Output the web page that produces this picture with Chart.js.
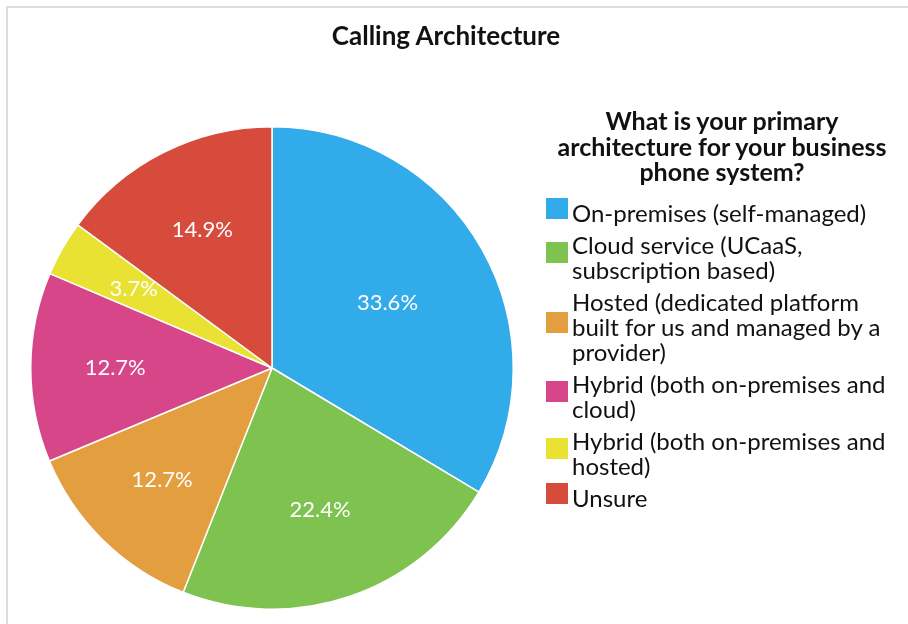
<!DOCTYPE html>
<html>
<head>
<meta charset="utf-8">
<script src="https://cdn.jsdelivr.net/npm/chart.js@4/dist/chart.umd.min.js"></script>
<style>
    html, body { margin: 0; padding: 0; background: #fff; }
    #wrap { position: relative; width: 908px; height: 624px; overflow: hidden; font-family: Lato, "Noto Sans", sans-serif; color: #111; }
    #frame { position: absolute; left: 6px; top: 6px; right: -10px; bottom: -10px; border-top: 2px solid #dcdcdc; border-left: 2px solid #dcdcdc; }
    #title { position: absolute; left: 0; width: 892px; top: 19px; line-height: 32px; text-align: center; font-weight: bold; font-size: 26px; }
    #chart { position: absolute; left: 0; top: 0; }
    #legend { position: absolute; left: 546px; top: 108px; width: 352px; }
    #legend .head { font-weight: bold; font-size: 25px; line-height: 25.5px; text-align: center; margin-bottom: 15px; }
    #legend .item { display: flex; align-items: center; margin-bottom: 7px; }
    #legend .box { width: 22px; height: 21px; flex: none; margin-right: 4px; transform: translateY(-4px); }
    #legend .txt { font-size: 24px; line-height: 25px; }
</style>
</head>
<body>
<div id="wrap">
    <div id="frame"></div>
    <canvas id="chart" width="908" height="624"></canvas>
    <div id="title"></div>
    <div id="legend"></div>
</div>
<script>
    const chartTitle = 'Calling Architecture';
    const legendTitle = ['What is your primary', 'architecture for your business', 'phone system?'];
    const categories = [
        ['On-premises (self-managed)'],
        ['Cloud service (UCaaS,', 'subscription based)'],
        ['Hosted (dedicated platform', 'built for us and managed by a', 'provider)'],
        ['Hybrid (both on-premises and', 'cloud)'],
        ['Hybrid (both on-premises and', 'hosted)'],
        ['Unsure']
    ];
    const values = [33.6, 22.4, 12.7, 12.7, 3.7, 14.9];
    const colors = ['#32ABEA', '#7EC34F', '#E39E40', '#D64689', '#EAE233', '#D64B3C'];

    // how far out (fraction of radius) each percentage label sits
    const labelRadius = [0.55, 0.62, 0.65, 0.65, 0.66, 0.64];

    document.getElementById('title').textContent = chartTitle;

    // html legend built from the same arrays
    const legend = document.getElementById('legend');
    const head = document.createElement('div');
    head.className = 'head';
    head.innerHTML = legendTitle.join('<br>');
    legend.appendChild(head);
    categories.forEach(function(lines, i) {
        const item = document.createElement('div');
        item.className = 'item';
        const box = document.createElement('span');
        box.className = 'box';
        box.style.background = colors[i];
        const txt = document.createElement('span');
        txt.className = 'txt';
        txt.innerHTML = lines.join('<br>');
        item.appendChild(box);
        item.appendChild(txt);
        legend.appendChild(item);
    });

    const sliceLabels = {
        id: 'sliceLabels',
        afterDatasetsDraw(chart) {
            const ctx = chart.ctx;
            const meta = chart.getDatasetMeta(0);
            ctx.save();
            ctx.fillStyle = '#fff';
            ctx.font = '22px Lato, "Noto Sans", sans-serif';
            ctx.textAlign = 'center';
            ctx.textBaseline = 'middle';
            meta.data.forEach(function(arc, i) {
                const p = arc.getProps(['x', 'y', 'startAngle', 'endAngle', 'outerRadius'], true);
                const mid = (p.startAngle + p.endAngle) / 2;
                const r = p.outerRadius * labelRadius[i];
                ctx.fillText(values[i].toFixed(1) + '%', p.x + Math.cos(mid) * r, p.y + Math.sin(mid) * r);
            });
            ctx.restore();
        }
    };

    new Chart(document.getElementById('chart'), {
        type: 'pie',
        data: {
            labels: categories.map(function(l) { return l.join(' '); }),
            datasets: [{
                data: values,
                backgroundColor: colors,
                borderColor: '#fff',
                borderWidth: 1.5
            }]
        },
        options: {
            responsive: false,
            animation: false,
            layout: {
                padding: { left: 30, right: 394, top: 126, bottom: 14 }
            },
            plugins: {
                legend: { display: false },
                title: { display: false },
                tooltip: { enabled: false }
            }
        },
        plugins: [sliceLabels]
    });
</script>
</body>
</html>
